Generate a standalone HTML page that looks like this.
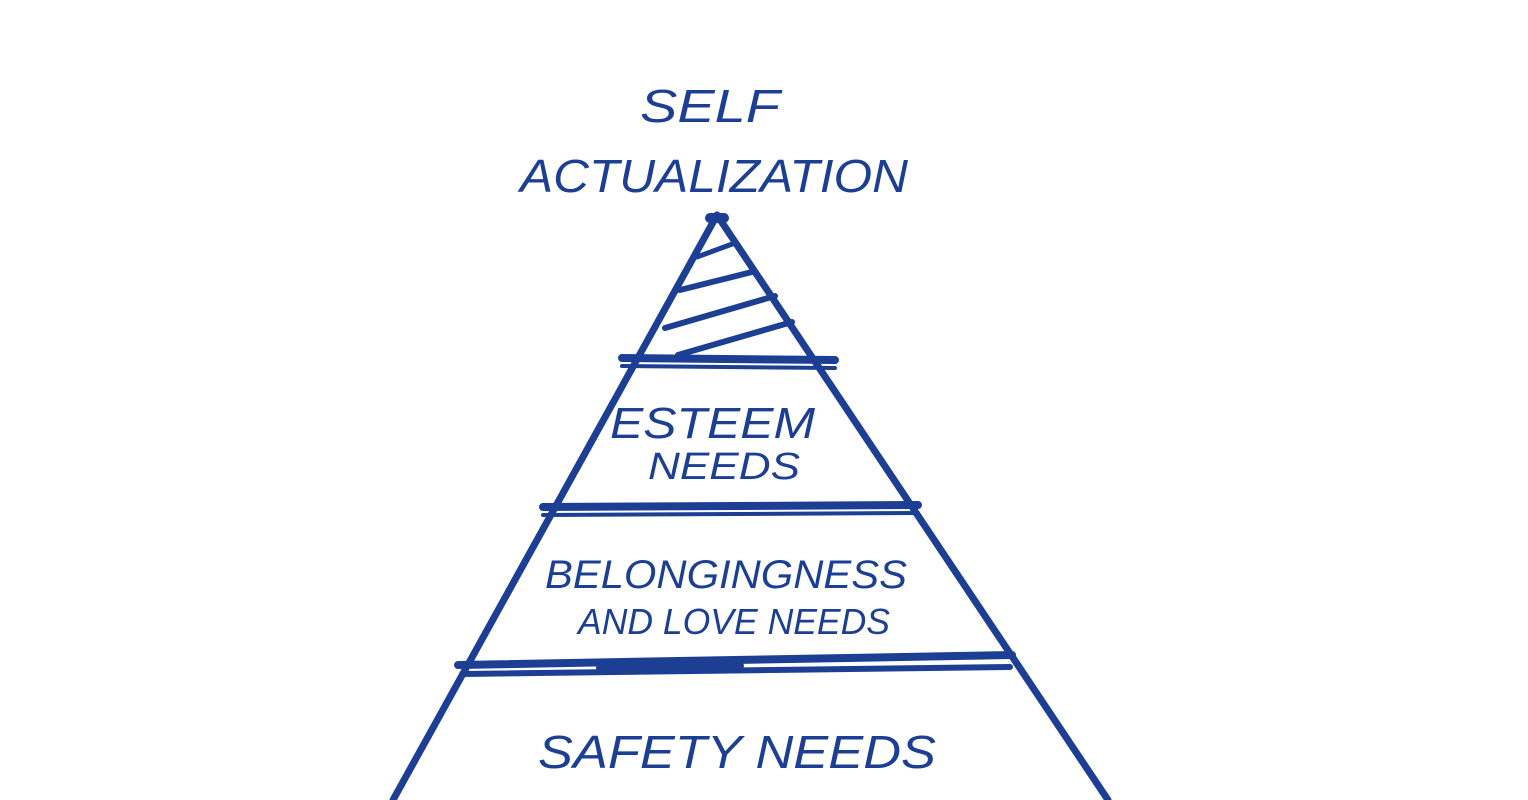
<!DOCTYPE html>
<html><head><meta charset="utf-8"><style>
html,body{margin:0;padding:0;background:#fff;}
svg{display:block;}
text{font-family:"Liberation Sans",sans-serif;font-style:italic;fill:#1c3f94;}
</style></head><body>
<svg width="1528" height="800" viewBox="0 0 1528 800">
<g stroke="#1c3f94" stroke-linecap="round" fill="none">
<!-- main sides -->
<path d="M717,215 L393,800" stroke-width="7"/>
<path d="M717,215 L1108,800" stroke-width="7"/>
<!-- apex blob -->
<path d="M710,218 L724,218" stroke-width="10"/>
<!-- hatch -->
<path d="M697,257 L735,243" stroke-width="5"/>
<path d="M680,290 L752,272" stroke-width="6"/>
<path d="M665,328 L775,296" stroke-width="6"/>
<path d="M678,355 L792,322" stroke-width="6"/>
<!-- band lines -->
<path d="M622,358 L835,360" stroke-width="8"/>
<path d="M622,366 L835,368" stroke-width="4"/>
<path d="M543,507 L918,505" stroke-width="8"/>
<path d="M543,515 L918,513" stroke-width="4"/>
<path d="M458,665 L1012,655" stroke-width="8"/>
<path d="M462,674 L1010,667" stroke-width="6"/>
<path d="M600,668 L740,666" stroke-width="8"/>
</g>
<text x="640" y="122" font-size="46" textLength="140" lengthAdjust="spacingAndGlyphs">SELF</text>
<text x="520" y="192" font-size="46" textLength="388" lengthAdjust="spacingAndGlyphs">ACTUALIZATION</text>
<text x="610" y="438" font-size="44" textLength="205" lengthAdjust="spacingAndGlyphs">ESTEEM</text>
<text x="648" y="479" font-size="38" textLength="152" lengthAdjust="spacingAndGlyphs">NEEDS</text>
<text x="545" y="588" font-size="40" textLength="362" lengthAdjust="spacingAndGlyphs">BELONGINGNESS</text>
<text x="578" y="634" font-size="36" textLength="312" lengthAdjust="spacingAndGlyphs">AND LOVE NEEDS</text>
<text x="538" y="768" font-size="46" textLength="398" lengthAdjust="spacingAndGlyphs">SAFETY NEEDS</text>
</svg>
</body></html>
